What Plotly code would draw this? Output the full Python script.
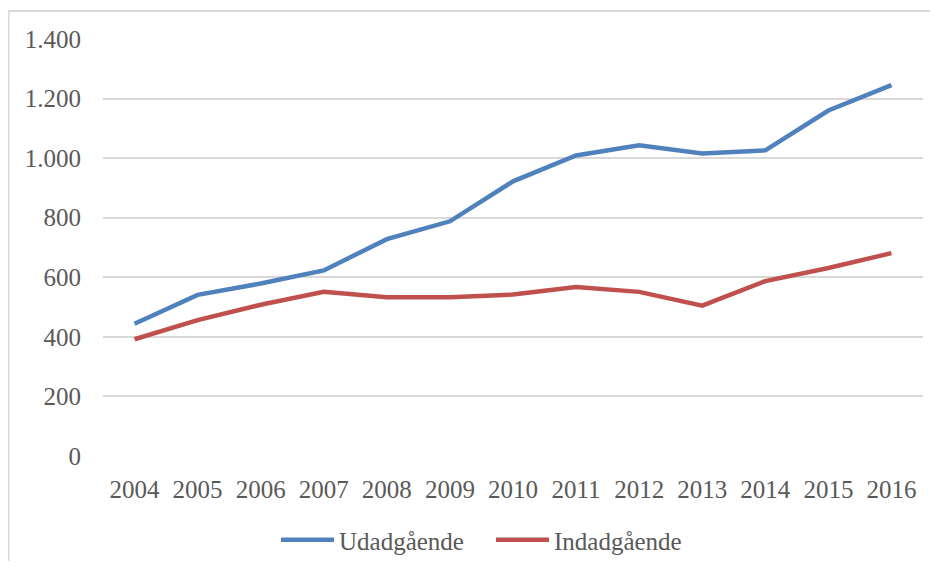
import plotly.graph_objects as go

years = ["2004", "2005", "2006", "2007", "2008", "2009", "2010",
         "2011", "2012", "2013", "2014", "2015", "2016"]
udadgaende = [444, 541, 579, 623, 728, 788, 922, 1009, 1043, 1016, 1026, 1160, 1245]
indadgaende = [392, 456, 508, 551, 533, 533, 542, 567, 551, 505, 587, 631, 681]
y_ticks = [0, 200, 400, 600, 800, 1000, 1200, 1400]
y_tick_text = ["0", "200", "400", "600", "800", "1.000", "1.200", "1.400"]

FONT = "Liberation Serif"
FS = 25
OFF = 8  # page body margin in the browser
W, H = 938 - 2 * OFF, 569 - 2 * OFF
L, T = 103 - OFF, 39 - OFF
R = W - (923 - OFF)
B = H - (456 - OFF)

fig = go.Figure()
fig.add_trace(go.Scatter(x=years, y=udadgaende, name="Udadgående", mode="lines",
                         line=dict(color="#4F81BD", width=4.5)))
fig.add_trace(go.Scatter(x=years, y=indadgaende, name="Indadgående", mode="lines",
                         line=dict(color="#C0504D", width=4.5)))

pw = W - L - R
ph = H - T - B
def px(x):
    return (x - OFF - L) / pw
def py(y):
    return (H - B - (y - OFF)) / ph

# outer chart frame: only the top and left edges are visible in the reference
fig.add_shape(type="line", xref="paper", yref="paper",
              x0=px(8.5), x1=px(945), y0=py(11), y1=py(11),
              line=dict(color="#D9D9D9", width=2), layer="below")
fig.add_shape(type="line", xref="paper", yref="paper",
              x0=px(8.5), x1=px(8.5), y0=py(11), y1=py(600),
              line=dict(color="#D9D9D9", width=2), layer="below")

fig.update_layout(
    width=W, height=H,
    margin=dict(l=L, r=R, t=T, b=B, autoexpand=False),
    paper_bgcolor="white", plot_bgcolor="white",
    font=dict(family=FONT, size=FS, color="#595959"),
    showlegend=True,
    legend=dict(orientation="h", x=px(276), xanchor="left", y=py(540), yanchor="middle",
                font=dict(family=FONT, size=FS, color="#595959"),
                itemwidth=53, entrywidth=147, entrywidthmode="pixels", tracegroupgap=0),
    xaxis=dict(type="category", range=[-0.5, 12.5], showgrid=False, zeroline=False,
               showline=False, ticks="", ticklabelstandoff=16,
               tickfont=dict(family=FONT, size=FS, color="#595959")),
    yaxis=dict(range=[0, 1400], tickvals=y_ticks, ticktext=y_tick_text,
               showgrid=True, gridcolor="#D9D9D9", gridwidth=2, zeroline=False,
               showline=False, ticks="", ticklabelstandoff=21,
               tickfont=dict(family=FONT, size=FS, color="#595959")),
)

fig.write_html("out.html")
